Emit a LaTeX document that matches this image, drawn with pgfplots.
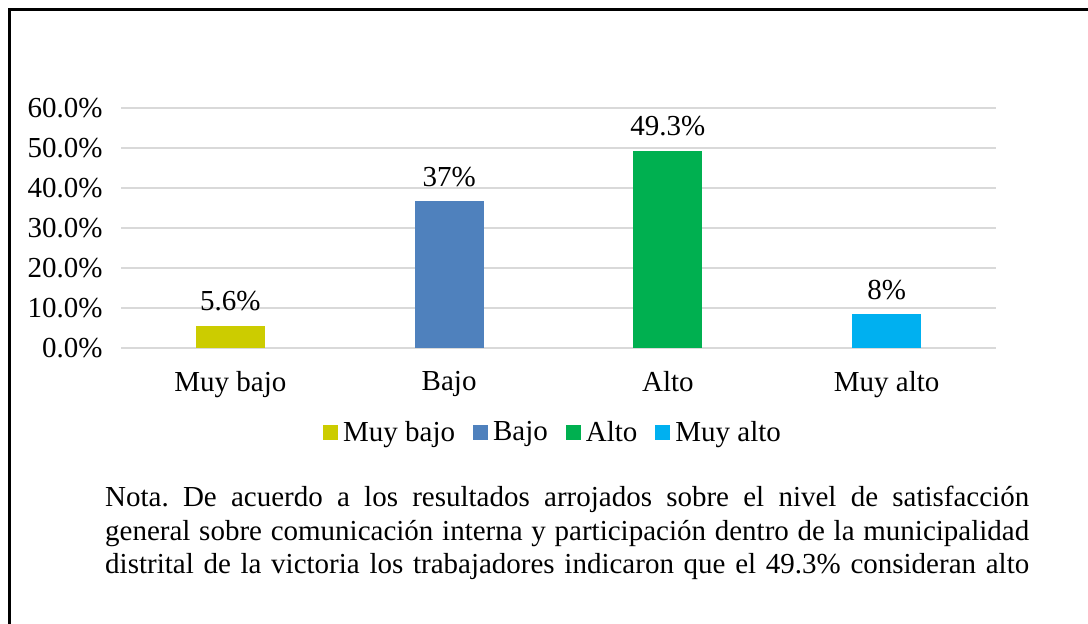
\documentclass[border=0pt]{standalone}
\usepackage{fontspec}
\setmainfont{Liberation Serif}
\usepackage{pgfplots}
\pgfplotsset{compat=1.18}
\definecolor{cMB}{RGB}{204,204,0}
\definecolor{cB}{RGB}{79,129,189}
\definecolor{cA}{RGB}{0,176,80}
\definecolor{cMA}{RGB}{0,176,240}
\definecolor{gridc}{RGB}{217,217,217}
\newcommand\fs{\fontsize{29bp}{34bp}\selectfont}
\frenchspacing
\begin{document}
\begin{tikzpicture}
\path[use as bounding box] (0,0) rectangle (1088bp,-624bp);
\draw[line width=3bp] (9.5bp,-630bp) -- (9.5bp,-9.5bp) -- (1095bp,-9.5bp);
\begin{axis}[
  at={(121bp,-348bp)}, anchor=south west,
  scale only axis, width=875bp, height=240bp,
  xmin=-0.5, xmax=3.5, ymin=0, ymax=60,
  axis line style={draw=none},
  major tick length=0pt,
  ymajorgrids, grid style={gridc, line width=1.5bp},
  ytick={0,10,20,30,40,50,60},
  yticklabels={0.0\%,10.0\%,20.0\%,30.0\%,40.0\%,50.0\%,60.0\%},
  xtick={0,1,2,3},
  xticklabels={Muy bajo,Bajo,Alto,Muy alto},
  yticklabel style={font=\fs, xshift=-15bp},
  xticklabel style={font=\fs, yshift=-20bp},
  ybar, bar width=69bp, bar shift=0pt,
  every node near coord/.append style={font=\fs, yshift=11bp, black},
  legend columns=-1,
  legend style={draw=none, font=\fs, at={(0.4846,-0.35)}, anchor=center,
    /tikz/every even column/.append style={column sep=0bp},
    /tikz/every odd column/.append style={column sep=0bp}},
  legend image code/.code={\path[draw=none,fill=none] (-16bp,-1bp) rectangle (18bp,1bp); \fill[#1] (0bp,-7.5bp) rectangle (15bp,7.5bp);},
]
\addplot[fill=cMB, draw=none, nodes near coords={5.6\%}] coordinates {(0,5.6)};
\addplot[fill=cB, draw=none, nodes near coords={37\%}] coordinates {(1,36.7)};
\addplot[fill=cA, draw=none, nodes near coords={49.3\%}] coordinates {(2,49.3)};
\addplot[fill=cMA, draw=none, nodes near coords={8\%}] coordinates {(3,8.4)};
\legend{Muy bajo,Bajo,Alto,Muy alto}
\end{axis}
\node[anchor=base west, inner sep=0pt, font=\fs] at (105bp,-506bp) {\makebox[924bp][s]{Nota. De acuerdo a los resultados arrojados sobre el nivel de satisfacción}};
\node[anchor=base west, inner sep=0pt, font=\fs] at (105bp,-540bp) {\makebox[924bp][s]{general sobre comunicación interna y participación dentro de la municipalidad}};
\node[anchor=base west, inner sep=0pt, font=\fs] at (105bp,-573bp) {\makebox[924bp][s]{distrital de la victoria los trabajadores indicaron que el 49.3\% consideran alto}};
\end{tikzpicture}
\end{document}
